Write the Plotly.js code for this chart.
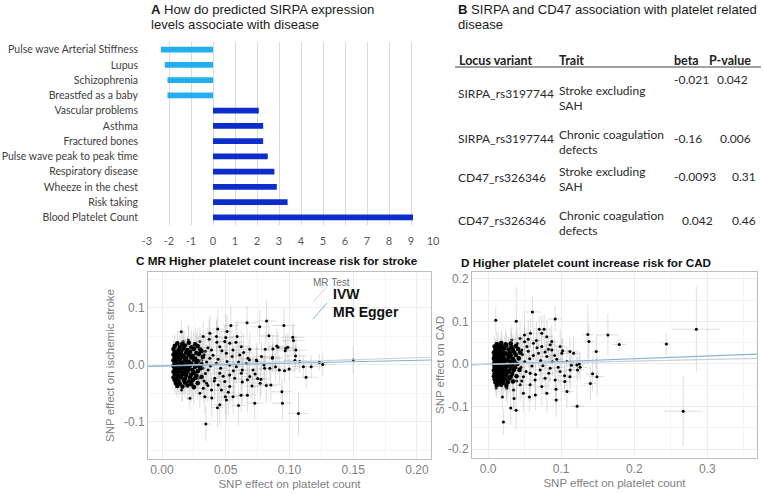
<!DOCTYPE html>
<html>
<head>
<meta charset="utf-8">
<script src="https://cdn.plot.ly/plotly-3.0.1.min.js"></script>
<style>html,body{margin:0;padding:0;background:#fff;}#chart{width:763px;height:494px;}</style>
</head>
<body>
<div id="chart"></div>
<script>
// ---------- Panel A data ----------
const aTraits = ['Pulse wave Arterial Stiffness','Lupus','Schizophrenia','Breastfed as a baby','Vascular problems','Asthma','Fractured bones','Pulse wave peak to peak time','Respiratory disease','Wheeze in the chest','Risk taking','Blood Platelet Count'];
const aValues = [-2.37,-2.19,-2.07,-2.07,2.08,2.28,2.28,2.49,2.79,2.9,3.39,9.09];
const aTickVals = [-3,-2,-1,0,1,2,3,4,5,6,7,8,9,10];
const aTickText = ['-3','-2','-1','0','1','2','3','4','5','6','7','8','9','10'];

// ---------- Panel B data ----------
const bHeaders = ['Locus variant','Trait','beta','P-value'];
const bLocus = ['SIRPA_rs3197744','SIRPA_rs3197744','CD47_rs326346','CD47_rs326346'];
const bTraitLines = [['Stroke excluding','SAH'],['Chronic coagulation','defects'],['Stroke excluding','SAH'],['Chronic coagulation','defects']];
const bBeta = [-0.021,-0.16,-0.0093,0.042];
const bPvalue = [0.042,0.006,0.31,0.46];

// ---------- Panel C data: dense core [x, y, xErr, yErr] ----------
const strokeCore = [
[0.012,0.038,0.002,0.02],[0.016,0.037,0.002,0.025],[0.021,0.039,0.003,0.03],[0.026,0.036,0.003,0.03],
[0.010,0.033,0.002,0.02],[0.014,0.032,0.002,0.02],[0.018,0.034,0.003,0.025],[0.023,0.031,0.003,0.03],[0.028,0.033,0.003,0.03],
[0.009,0.028,0.002,0.015],[0.013,0.027,0.002,0.02],[0.017,0.029,0.002,0.02],[0.020,0.026,0.003,0.025],[0.025,0.028,0.003,0.03],[0.030,0.027,0.003,0.03],
[0.010,0.023,0.002,0.015],[0.012,0.022,0.002,0.02],[0.015,0.024,0.002,0.02],[0.019,0.022,0.003,0.02],[0.022,0.023,0.003,0.025],[0.027,0.021,0.003,0.03],[0.031,0.024,0.004,0.03],
[0.009,0.018,0.002,0.015],[0.011,0.017,0.002,0.015],[0.014,0.019,0.002,0.02],[0.017,0.017,0.002,0.02],[0.021,0.018,0.003,0.025],[0.024,0.016,0.003,0.025],[0.029,0.019,0.003,0.03],
[0.010,0.013,0.002,0.015],[0.013,0.012,0.002,0.015],[0.016,0.014,0.002,0.02],[0.019,0.012,0.003,0.02],[0.023,0.013,0.003,0.025],[0.026,0.011,0.003,0.025],[0.032,0.014,0.004,0.03],
[0.009,0.008,0.002,0.015],[0.011,0.007,0.002,0.015],[0.014,0.009,0.002,0.02],[0.018,0.008,0.002,0.02],[0.021,0.006,0.003,0.02],[0.025,0.009,0.003,0.025],[0.028,0.007,0.003,0.03],
[0.010,0.003,0.002,0.015],[0.012,0.002,0.002,0.015],[0.015,0.004,0.002,0.015],[0.017,0.001,0.002,0.02],[0.020,0.003,0.003,0.02],[0.023,0.002,0.003,0.025],[0.027,0.004,0.003,0.025],[0.031,0.001,0.004,0.03],
[0.009,-0.002,0.002,0.015],[0.011,-0.003,0.002,0.015],[0.013,-0.001,0.002,0.015],[0.016,-0.002,0.002,0.02],[0.019,-0.004,0.003,0.02],[0.022,-0.001,0.003,0.02],[0.026,-0.003,0.003,0.025],[0.029,-0.002,0.003,0.03],
[0.010,-0.007,0.002,0.015],[0.012,-0.008,0.002,0.015],[0.015,-0.006,0.002,0.02],[0.018,-0.008,0.002,0.02],[0.021,-0.007,0.003,0.02],[0.024,-0.009,0.003,0.025],[0.030,-0.006,0.003,0.03],
[0.009,-0.012,0.002,0.015],[0.011,-0.013,0.002,0.015],[0.014,-0.011,0.002,0.02],[0.017,-0.013,0.002,0.02],[0.020,-0.012,0.003,0.02],[0.025,-0.014,0.003,0.025],[0.028,-0.011,0.003,0.03],
[0.010,-0.017,0.002,0.015],[0.013,-0.018,0.002,0.02],[0.016,-0.016,0.002,0.02],[0.019,-0.018,0.003,0.02],[0.023,-0.017,0.003,0.025],[0.027,-0.019,0.003,0.03],
[0.009,-0.022,0.002,0.015],[0.012,-0.023,0.002,0.02],[0.015,-0.021,0.002,0.02],[0.018,-0.024,0.003,0.025],[0.022,-0.022,0.003,0.025],[0.026,-0.023,0.003,0.03],[0.031,-0.021,0.004,0.03],
[0.010,-0.027,0.002,0.02],[0.013,-0.028,0.002,0.02],[0.017,-0.026,0.002,0.025],[0.021,-0.029,0.003,0.025],[0.024,-0.027,0.003,0.03],
[0.011,-0.032,0.002,0.02],[0.014,-0.033,0.002,0.02],[0.018,-0.031,0.003,0.025],[0.023,-0.034,0.003,0.03],[0.028,-0.032,0.003,0.03],
[0.012,-0.037,0.002,0.02],[0.016,-0.038,0.002,0.025],[0.020,-0.036,0.003,0.025],[0.025,-0.039,0.003,0.03]
];
// ---------- Panel C data: scattered SNPs [x, y, xErr, yErr] ----------
const strokeSNPs = [
[0.0151,0.058,0.003,0.02],[0.0167,0.041,0.002,0.02],[0.0206,0.0439,0.003,0.025],[0.0271,0.032,0.003,0.025],[0.0284,-0.0234,0.003,0.025],
[0.0154,-0.0439,0.002,0.02],[0.0219,-0.0585,0.003,0.02],[0.0297,0.041,0.003,0.025],[0.0297,-0.0497,0.003,0.025],
[0.031,0.008,0.004,0.025],[0.032,-0.006,0.004,0.025],[0.033,0.018,0.004,0.03],[0.033,-0.028,0.004,0.03],[0.034,0.024,0.004,0.03],
[0.034,-0.015,0.004,0.03],[0.035,0.005,0.004,0.03],[0.036,0.030,0.004,0.035],[0.036,-0.036,0.004,0.03],[0.037,0.045,0.004,0.035],
[0.038,-0.002,0.004,0.03],[0.039,-0.058,0.004,0.035],[0.040,0.017,0.005,0.035],[0.041,-0.028,0.005,0.035],[0.043,0.040,0.005,0.04],
[0.044,0.010,0.005,0.035],[0.046,-0.006,0.005,0.04],[0.047,0.025,0.005,0.035],[0.048,-0.020,0.005,0.04],[0.050,0.048,0.006,0.04],
[0.051,0.006,0.006,0.035],[0.052,-0.048,0.006,0.04],[0.055,0.015,0.006,0.035],[0.056,-0.010,0.006,0.04],[0.058,0.040,0.006,0.035],
[0.060,0.005,0.006,0.035],[0.063,-0.030,0.007,0.04],[0.064,0.022,0.007,0.035],
[0.0323,0.0497,0.004,0.025],[0.0375,0.0556,0.004,0.03],[0.0427,0.0497,0.004,0.03],[0.0437,0.063,0.005,0.035],[0.051,0.0585,0.005,0.03],
[0.054,0.069,0.006,0.035],[0.0589,0.0497,0.006,0.03],[0.0492,0.041,0.005,0.03],[0.0531,0.038,0.005,0.03],[0.0622,0.032,0.006,0.03],
[0.0688,0.0275,0.007,0.03],[0.0453,0.032,0.005,0.03],[0.0388,0.026,0.004,0.03],[0.0557,0.026,0.006,0.03],[0.0505,0.0205,0.005,0.03],
[0.061,0.0175,0.006,0.03],[0.0674,0.0117,0.007,0.03],[0.074,0.0088,0.007,0.03],[0.0375,0.0117,0.004,0.025],[0.0427,0.003,0.004,0.03],
[0.0531,0.0,0.005,0.03],[0.0583,-0.003,0.006,0.03],[0.0661,0.003,0.007,0.03],[0.0714,-0.0088,0.007,0.03],[0.0362,-0.0088,0.004,0.025],
[0.0453,-0.0146,0.005,0.03],[0.0531,-0.0175,0.005,0.03],[0.0622,-0.0146,0.006,0.03],[0.0414,-0.0234,0.004,0.03],[0.0492,-0.0292,0.005,0.03],
[0.057,-0.0234,0.006,0.03],[0.0688,-0.0205,0.007,0.03],[0.0349,-0.032,0.004,0.025],[0.044,-0.035,0.005,0.03],[0.0531,-0.038,0.005,0.03],
[0.0323,-0.041,0.004,0.025],[0.0388,-0.0439,0.004,0.03],[0.0466,-0.0439,0.005,0.03],[0.0336,-0.0556,0.004,0.03],[0.0453,-0.070,0.005,0.035],
[0.0505,-0.0614,0.005,0.035],[0.0557,-0.0556,0.006,0.03],[0.0344,-0.1035,0.004,0.03],[0.0435,-0.075,0.005,0.035],[0.060,-0.071,0.006,0.035],
[0.062,-0.053,0.006,0.03],[0.067,-0.053,0.007,0.03],[0.0497,-0.056,0.005,0.03],[0.0727,-0.067,0.007,0.03],
[0.0667,0.074,0.008,0.03],[0.082,0.077,0.008,0.035],[0.0956,0.069,0.009,0.03],[0.0766,0.067,0.007,0.03],[0.0838,0.051,0.008,0.03],
[0.090,0.033,0.008,0.03],[0.097,0.029,0.008,0.025],[0.087,0.028,0.008,0.025],[0.0865,0.0117,0.008,0.025],[0.0805,-0.006,0.008,0.025],
[0.0818,-0.036,0.008,0.03],[0.077,-0.032,0.007,0.03],[0.075,-0.024,0.007,0.025],[0.0846,-0.006,0.008,0.025],[0.089,-0.003,0.008,0.025],
[0.092,-0.009,0.008,0.025],[0.0867,0.0135,0.008,0.025],[0.091,0.031,0.008,0.025],[0.081,0.0275,0.008,0.03],[0.078,0.0146,0.007,0.025],
[0.0745,0.006,0.007,0.025],[0.080,0.0,0.008,0.025],[0.073,-0.016,0.007,0.025],[0.0776,-0.025,0.007,0.03],[0.0854,-0.035,0.008,0.03],
[0.0706,-0.037,0.007,0.03],[0.067,-0.026,0.007,0.03],[0.063,-0.009,0.006,0.025],[0.0685,0.009,0.007,0.025],
[0.0945,-0.067,0.008,0.03],[0.094,-0.047,0.008,0.025],[0.1026,0.0485,0.009,0.025],[0.1031,0.0427,0.009,0.025],[0.0987,0.031,0.008,0.025],
[0.0966,0.025,0.008,0.02],[0.105,0.026,0.009,0.025],[0.1047,0.0158,0.009,0.02],[0.1042,0.0076,0.009,0.02],[0.108,0.006,0.009,0.02],
[0.0997,-0.007,0.008,0.02],[0.0961,-0.010,0.008,0.02],[0.1109,-0.003,0.009,0.02],[0.117,-0.003,0.009,0.02],[0.113,-0.0216,0.009,0.02],
[0.1234,0.0047,0.01,0.015],[0.126,0.0006,0.01,0.02],[0.150,0.0088,0.008,0.025],[0.107,-0.085,0.0085,0.039]
];

// ---------- Panel D data: dense core [x, y, xErr, yErr] ----------
const cadCore = [
[0.012,0.047,0.002,0.03],[0.018,0.049,0.002,0.03],[0.024,0.046,0.003,0.035],[0.031,0.048,0.003,0.035],
[0.009,0.041,0.002,0.025],[0.014,0.042,0.002,0.03],[0.019,0.040,0.002,0.03],[0.025,0.043,0.003,0.03],[0.032,0.040,0.003,0.035],[0.038,0.042,0.004,0.035],
[0.010,0.034,0.002,0.025],[0.013,0.035,0.002,0.025],[0.017,0.033,0.002,0.03],[0.022,0.036,0.003,0.03],[0.028,0.034,0.003,0.03],[0.034,0.033,0.003,0.035],[0.041,0.035,0.004,0.035],
[0.008,0.027,0.002,0.02],[0.012,0.026,0.002,0.025],[0.016,0.028,0.002,0.025],[0.020,0.027,0.003,0.03],[0.024,0.025,0.003,0.03],[0.030,0.028,0.003,0.03],[0.036,0.026,0.004,0.035],[0.044,0.027,0.004,0.035],
[0.009,0.020,0.002,0.02],[0.013,0.021,0.002,0.025],[0.017,0.019,0.002,0.025],[0.021,0.020,0.003,0.03],[0.026,0.022,0.003,0.03],[0.031,0.019,0.003,0.03],[0.038,0.021,0.004,0.035],
[0.008,0.013,0.002,0.02],[0.011,0.012,0.002,0.02],[0.015,0.014,0.002,0.025],[0.019,0.013,0.002,0.025],[0.023,0.011,0.003,0.03],[0.028,0.014,0.003,0.03],[0.034,0.012,0.003,0.03],[0.042,0.013,0.004,0.035],
[0.009,0.006,0.002,0.02],[0.012,0.007,0.002,0.02],[0.016,0.005,0.002,0.025],[0.020,0.006,0.003,0.025],[0.025,0.008,0.003,0.03],[0.030,0.005,0.003,0.03],[0.036,0.006,0.004,0.03],
[0.008,-0.001,0.002,0.02],[0.011,0.000,0.002,0.02],[0.014,-0.002,0.002,0.025],[0.018,-0.001,0.002,0.025],[0.022,0.001,0.003,0.025],[0.027,-0.002,0.003,0.03],[0.033,-0.001,0.003,0.03],[0.040,0.000,0.004,0.035],
[0.009,-0.008,0.002,0.02],[0.013,-0.007,0.002,0.02],[0.017,-0.009,0.002,0.025],[0.021,-0.008,0.003,0.025],[0.025,-0.006,0.003,0.03],[0.031,-0.009,0.003,0.03],[0.037,-0.008,0.004,0.035],
[0.008,-0.015,0.002,0.02],[0.012,-0.014,0.002,0.02],[0.015,-0.016,0.002,0.025],[0.019,-0.015,0.002,0.025],[0.024,-0.013,0.003,0.03],[0.029,-0.016,0.003,0.03],[0.035,-0.015,0.004,0.035],[0.043,-0.014,0.004,0.035],
[0.009,-0.022,0.002,0.02],[0.013,-0.021,0.002,0.025],[0.017,-0.023,0.002,0.025],[0.022,-0.022,0.003,0.03],[0.027,-0.020,0.003,0.03],[0.033,-0.023,0.003,0.035],
[0.008,-0.029,0.002,0.02],[0.011,-0.028,0.002,0.025],[0.015,-0.030,0.002,0.025],[0.020,-0.029,0.003,0.03],[0.025,-0.027,0.003,0.03],[0.031,-0.030,0.003,0.035],[0.039,-0.029,0.004,0.035],
[0.009,-0.036,0.002,0.025],[0.013,-0.035,0.002,0.025],[0.018,-0.037,0.002,0.03],[0.023,-0.036,0.003,0.03],[0.029,-0.034,0.003,0.035],
[0.010,-0.043,0.002,0.025],[0.015,-0.042,0.002,0.03],[0.021,-0.044,0.003,0.03],[0.027,-0.043,0.003,0.035],[0.034,-0.041,0.003,0.035],
[0.012,-0.050,0.002,0.03],[0.018,-0.049,0.002,0.03],[0.025,-0.051,0.003,0.035]
];
// ---------- Panel D data: scattered SNPs [x, y, xErr, yErr] ----------
const cadSNPs = [
[0.042,0.015,0.004,0.035],[0.045,-0.008,0.005,0.035],[0.047,0.022,0.005,0.04],[0.050,0.005,0.005,0.035],[0.052,-0.018,0.005,0.04],
[0.055,0.030,0.006,0.04],[0.057,0.012,0.006,0.035],[0.060,-0.005,0.006,0.04],[0.062,0.020,0.006,0.035],[0.065,-0.025,0.007,0.04],
[0.067,0.038,0.007,0.04],[0.072,0.008,0.007,0.035],[0.075,-0.004,0.007,0.04],[0.078,0.028,0.008,0.04],[0.083,-0.022,0.008,0.04],
[0.088,0.005,0.008,0.035],[0.091,0.020,0.008,0.04],[0.096,-0.008,0.009,0.04],[0.050,0.052,0.005,0.04],[0.046,-0.040,0.005,0.04],
[0.040,0.048,0.004,0.04],[0.039,-0.040,0.004,0.04],[0.055,0.058,0.006,0.045],[0.066,0.055,0.007,0.045],[0.085,0.045,0.008,0.04],
[0.0735,0.0722,0.007,0.04],[0.0498,0.068,0.005,0.045],[0.0438,0.060,0.005,0.04],[0.0324,0.0565,0.004,0.035],[0.0804,0.064,0.008,0.04],
[0.0872,0.0525,0.008,0.04],[0.0986,0.041,0.009,0.04],[0.117,0.025,0.01,0.04],[0.1009,0.025,0.009,0.035],[0.0872,0.033,0.008,0.035],
[0.0735,0.041,0.007,0.04],[0.062,0.0486,0.006,0.04],[0.053,0.041,0.005,0.04],[0.0461,0.033,0.005,0.035],[0.069,0.025,0.007,0.035],
[0.0804,0.0173,0.008,0.035],[0.094,0.011,0.009,0.035],[0.1078,0.0055,0.009,0.035],[0.1215,-0.0024,0.01,0.035],[0.1123,-0.014,0.009,0.035],
[0.0986,-0.018,0.009,0.035],[0.085,-0.010,0.008,0.035],[0.0712,-0.014,0.007,0.035],[0.0575,-0.022,0.006,0.04],[0.0484,-0.030,0.005,0.04],
[0.0644,-0.0376,0.006,0.04],[0.078,-0.0337,0.008,0.04],[0.0918,-0.0376,0.009,0.04],[0.0438,-0.049,0.005,0.04],[0.0575,-0.049,0.006,0.04],
[0.0735,-0.053,0.007,0.045],[0.0347,-0.061,0.004,0.04],[0.0256,-0.0573,0.003,0.035],[0.0484,-0.069,0.005,0.045],[0.0804,-0.069,0.008,0.045],
[0.0105,0.1025,0.003,0.03],[0.0386,0.1005,0.004,0.08],[0.0607,0.122,0.013,0.035],[0.0918,0.1055,0.01,0.03],[0.1365,0.069,0.008,0.07],
[0.164,0.068,0.015,0.05],[0.138,0.053,0.007,0.04],[0.148,0.029,0.006,0.04],[0.021,-0.1365,0.003,0.03],[0.0384,-0.109,0.004,0.045],
[0.031,-0.1035,0.004,0.04],[0.0196,-0.0775,0.003,0.03],[0.011,-0.0568,0.002,0.02],[0.0356,-0.0815,0.004,0.03],[0.0565,-0.0775,0.006,0.035],
[0.0647,-0.073,0.006,0.035],[0.0932,-0.0845,0.008,0.04],[0.1218,-0.0995,0.01,0.05],[0.108,-0.0645,0.009,0.04],[0.093,-0.0595,0.008,0.035],
[0.112,-0.030,0.008,0.04],[0.1046,-0.028,0.008,0.03],[0.143,-0.023,0.009,0.04],[0.149,-0.030,0.01,0.045],[0.126,-0.008,0.01,0.03],
[0.1224,-0.014,0.009,0.03],[0.114,-0.003,0.009,0.03],[0.102,0.031,0.009,0.03],[0.112,0.029,0.009,0.035],[0.0826,0.0345,0.008,0.03],
[0.0767,0.0816,0.008,0.035],[0.070,0.0816,0.007,0.03],[0.058,0.072,0.006,0.035],[0.1795,0.0455,0.01,0.015],[0.244,0.047,0.005,0.026],
[0.285,0.0816,0.033,0.1],[0.267,-0.111,0.027,0.082],[0.1247,-0.0004,0.008,0.03],[0.14,-0.046,0.008,0.04],[0.105,-0.041,0.008,0.035]
];

// ---------- MR fit lines: slope, intercept ----------
const strokeIVW = {slope:0.071, intercept:-0.0015};
const strokeEgger = {slope:0.05, intercept:-0.002};
const cadIVW = {slope:0.064, intercept:-0.0006};
const cadEgger = {slope:0.038, intercept:-0.001};
const mrMethods = ['IVW','MR Egger'];

// ---------- layout helpers ----------
const W = 763, H = 494;
const PX = x => x / W;
const PY = y => 1 - y / H;
const lightBlue = '#22aef0', darkBlue = '#0c2dcb';
const ivwColor = '#c8d0d8', eggerColor = '#86afd8';
const errColor = 'rgba(170,170,170,0.38)';
const titleFont = 'Liberation Sans, Arial, sans-serif';
const tableFont = 'Lato, sans-serif';

const cRange = [-0.011, 0.211], cYRange = [-0.165, 0.163];
const dRange = [-0.022, 0.368], dYRange = [-0.221, 0.216];

function snpTrace(pts, xa, ya, size) {
  return {
    type:'scatter', mode:'markers', xaxis:xa, yaxis:ya, showlegend:false, hoverinfo:'skip',
    x: pts.map(p=>p[0]), y: pts.map(p=>p[1]),
    marker:{color:'#000', size:size},
    error_x:{type:'data', array:pts.map(p=>p[2]), color:errColor, thickness:1, width:0},
    error_y:{type:'data', array:pts.map(p=>p[3]), color:errColor, thickness:1, width:0}
  };
}
function fitTrace(fit, range, color, xa, ya, name) {
  return {type:'scatter', mode:'lines', xaxis:xa, yaxis:ya, name:name, showlegend:false, hoverinfo:'skip',
    x: range, y: range.map(x=>fit.intercept + fit.slope*x), line:{color:color, width:1.1}};
}

const traces = [
  {type:'bar', orientation:'h', x:aValues, y:aTraits, xaxis:'x', yaxis:'y', width:0.38,
   marker:{color:aValues.map(v=> v<0 ? lightBlue : darkBlue)}, showlegend:false, hoverinfo:'skip'},
  snpTrace(strokeSNPs, 'x2', 'y2', 3),
  snpTrace(strokeCore, 'x2', 'y2', 4.6),
  snpTrace(cadSNPs, 'x3', 'y3', 3),
  snpTrace(cadCore, 'x3', 'y3', 4.6),
  fitTrace(strokeIVW, cRange, ivwColor, 'x2', 'y2', mrMethods[0]),
  fitTrace(strokeEgger, cRange, eggerColor, 'x2', 'y2', mrMethods[1]),
  fitTrace(cadIVW, dRange, eggerColor, 'x3', 'y3', mrMethods[0]),
  fitTrace(cadEgger, dRange, ivwColor, 'x3', 'y3', mrMethods[1])
];

const anns = [];
function ann(text, x, y, font, opts) {
  anns.push(Object.assign({text:text, x:PX(x), y:PY(y), xref:'paper', yref:'paper', xanchor:'left', yanchor:'middle',
    showarrow:false, font:font}, opts||{}));
}
// Titles
ann('<b>A</b> How do predicted SIRPA expression', 149, 9, {family:titleFont, size:13.1, color:'#1a1a1a'});
ann('levels associate with disease', 149, 24, {family:titleFont, size:13.1, color:'#1a1a1a'});
ann('<b>B</b> SIRPA and CD47 association with platelet related', 456, 10, {family:titleFont, size:13.1, color:'#1a1a1a'});
ann('disease', 456, 24, {family:titleFont, size:13.1, color:'#1a1a1a'});
ann('<b>C MR Higher platelet count increase risk for stroke</b>', 134, 260, {family:titleFont, size:11.7, color:'#111'});
ann('<b>D Higher platelet count increase risk for CAD</b>', 459, 262, {family:titleFont, size:11.7, color:'#111'});

// Table B
const tf = {family:tableFont, size:12, color:'#2a2a2a'};
const hdrX = [457, 557, 672, 707];
bHeaders.forEach((h,i)=> ann('<b>'+h+'</b>', hdrX[i], 60, {family:tableFont, size:12.5, color:'#222'}));
const rowY = [93, 138, 177, 220];
const traitY = [[90,105],[134,149],[172,187],[215,230]];
const betaXY = [[672,80],[672,138],[672,176],[680,220]];
const pXY = [[715,80],[718,138],[730,176],[730,220]];
bLocus.forEach((l,i)=>{
  ann(l, 456, rowY[i], tf);
  ann(bTraitLines[i][0], 557, traitY[i][0], tf);
  ann(bTraitLines[i][1], 557, traitY[i][1], tf);
  ann(String(bBeta[i]), betaXY[i][0], betaXY[i][1], tf);
  ann(String(bPvalue[i]), pXY[i][0], pXY[i][1], tf);
});

// Legend in C
ann('MR Test', 311, 282, {family:titleFont, size:10, color:'#707070'});
ann('<b>'+mrMethods[0]+'</b>', 331, 294, {family:titleFont, size:14, color:'#111'});
ann('<b>'+mrMethods[1]+'</b>', 331, 312, {family:titleFont, size:14, color:'#111'});

const shapes = [
  {type:'line', xref:'paper', yref:'paper', x0:PX(455), x1:PX(761), y0:PY(67), y1:PY(67), line:{color:'#808080', width:1.5}},
  {type:'line', xref:'paper', yref:'paper', x0:PX(313), x1:PX(327), y0:PY(302), y1:PY(287), line:{color:ivwColor, width:1}},
  {type:'line', xref:'paper', yref:'paper', x0:PX(313), x1:PX(327), y0:PY(319), y1:PY(303), line:{color:eggerColor, width:1}}
];

const gTick = {family:titleFont, size:12, color:'#7f7f7f'};
const gTitle = {family:titleFont, size:11.5, color:'#7f7f7f'};
const ggAxis = {showline:true, mirror:true, linecolor:'#bdbdbd', linewidth:1, showgrid:true, gridcolor:'#ececec',
  zeroline:false, ticks:'', tickfont:gTick};

const layout = {
  width:W, height:H, margin:{l:0,r:0,t:0,b:0}, paper_bgcolor:'#fff', plot_bgcolor:'#fff',
  xaxis:{domain:[PX(147), PX(433)], anchor:'y', range:[-3,10], tickmode:'array', tickvals:aTickVals, ticktext:aTickText,
    showgrid:true, gridcolor:'#d9d9d9', zeroline:false, showline:false, ticks:'', ticklabelstandoff:8,
    tickfont:{family:tableFont, size:11, color:'#595959'}},
  yaxis:{domain:[PY(225), PY(42)], anchor:'x', type:'category', categoryorder:'array', categoryarray:aTraits,
    autorange:'reversed', showgrid:false, zeroline:false, showline:false, ticks:'', ticklabelstandoff:8,
    tickfont:{family:tableFont, size:10.5, color:'#404040'}},
  xaxis2:Object.assign({}, ggAxis, {domain:[PX(148), PX(431)], anchor:'y2', range:cRange,
    tickmode:'array', tickvals:[0,0.05,0.1,0.15,0.2], ticktext:['0.00','0.05','0.10','0.15','0.20'],
    minor:{tickmode:'linear', tick0:0, dtick:0.025, showgrid:true, gridcolor:'#f4f4f4'},
    title:{text:'SNP effect on platelet count', font:gTitle, standoff:3}}),
  yaxis2:Object.assign({}, ggAxis, {domain:[PY(459), PY(272)], anchor:'x2', range:cYRange,
    tickmode:'array', tickvals:[-0.1,0,0.1], ticktext:['-0.1','0.0','0.1'],
    minor:{tickmode:'linear', tick0:0, dtick:0.05, showgrid:true, gridcolor:'#f4f4f4'},
    title:{text:'SNP effect on ischemic stroke', font:gTitle, standoff:6}}),
  xaxis3:Object.assign({}, ggAxis, {domain:[PX(472), PX(757)], anchor:'y3', range:dRange,
    tickmode:'array', tickvals:[0,0.1,0.2,0.3], ticktext:['0.0','0.1','0.2','0.3'],
    minor:{tickmode:'linear', tick0:0, dtick:0.05, showgrid:true, gridcolor:'#f4f4f4'},
    title:{text:'SNP effect on platelet count', font:gTitle, standoff:3}}),
  yaxis3:Object.assign({}, ggAxis, {domain:[PY(458), PY(272)], anchor:'x3', range:dYRange,
    tickmode:'array', tickvals:[-0.2,-0.1,0,0.1,0.2], ticktext:['-0.2','-0.1','0.0','0.1','0.2'],
    minor:{tickmode:'linear', tick0:0, dtick:0.05, showgrid:true, gridcolor:'#f4f4f4'},
    title:{text:'SNP effect on CAD', font:gTitle, standoff:0}}),
  annotations:anns,
  shapes:shapes
};

Plotly.newPlot('chart', traces, layout, {staticPlot:true, displayModeBar:false});
</script>
</body>
</html>
